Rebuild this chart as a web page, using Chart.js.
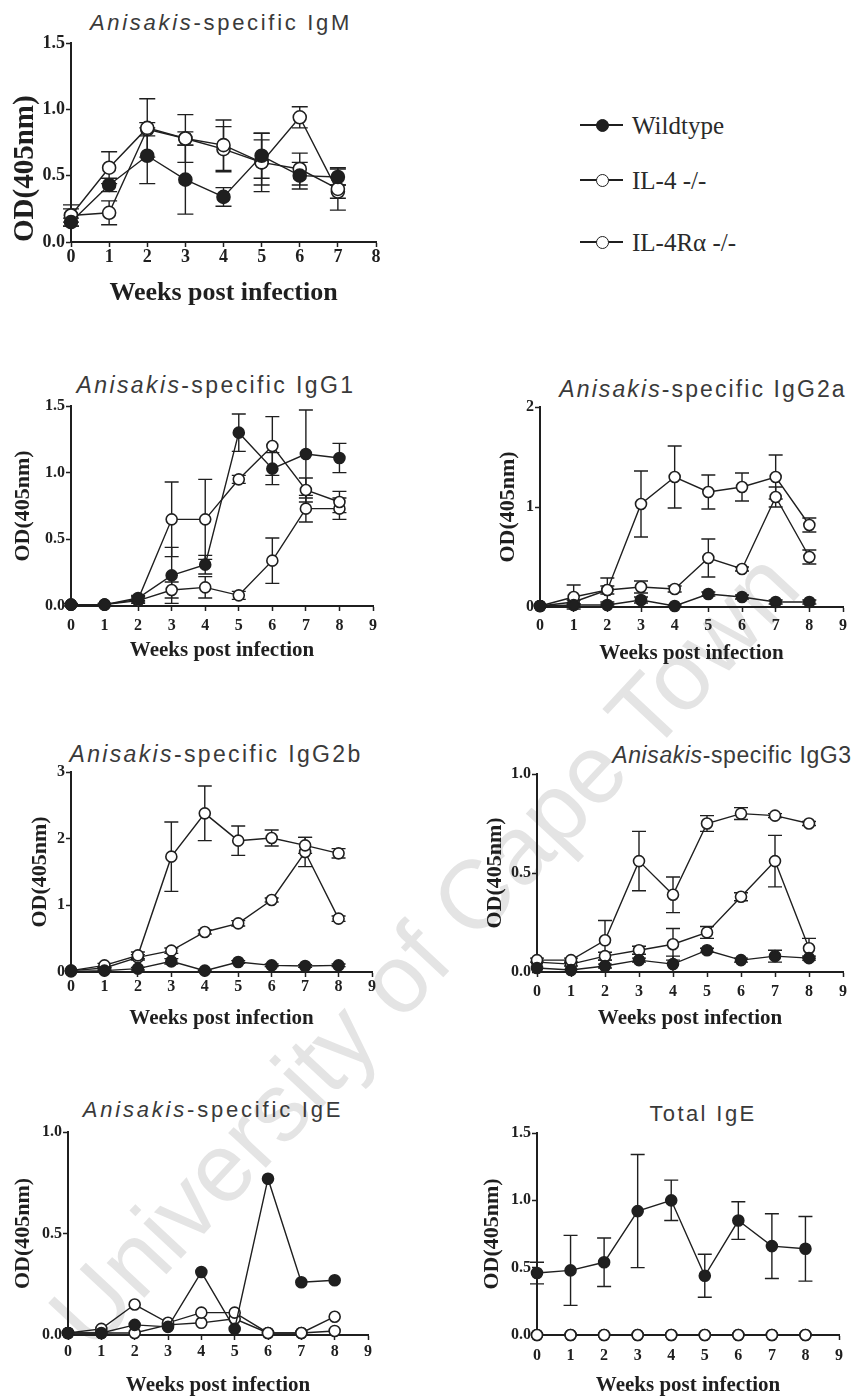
<!DOCTYPE html>
<html>
<head>
<meta charset="utf-8">
<script src="https://cdn.jsdelivr.net/npm/chart.js@4.4.1/dist/chart.umd.min.js"></script>
<style>
  html, body { margin: 0; padding: 0; background: #fff; }
  body { width: 857px; height: 1398px; position: relative; overflow: hidden; }
  canvas { position: absolute; }
  .ttl { position: absolute; font-family: 'Liberation Sans', Arial, sans-serif; color: #3a3a3a; white-space: nowrap; line-height: 1; transform: translateX(-50%); }
  .lg-line { position: absolute; height: 1.6px; background: #1f1f1f; }
  .lg-dot { position: absolute; border: 1.6px solid #1f1f1f; border-radius: 50%; box-sizing: border-box; }
  .lg-txt { position: absolute; font-family: 'Liberation Serif', 'Times New Roman', serif; font-size: 25px; line-height: 1; color: #2a2a2a; white-space: nowrap; }
  #wm { position: absolute; left: 92px; top: 1272px; font-family: 'Liberation Sans', Arial, sans-serif; font-size: 97px; line-height: 97px; color: #e4e4e4; white-space: nowrap; transform-origin: 0 82px; transform: rotate(-47deg); }
</style>
</head>
<body>
<div id="wm">University of Cape Town</div>
<script>
// weeks post infection
const weeksIgM = [0, 1, 2, 3, 4, 5, 6, 7];
const weeks = [0, 1, 2, 3, 4, 5, 6, 7, 8];
const seriesNames = ['Wildtype', 'IL-4 -/-', 'IL-4R\u03b1 -/-'];

// Anisakis-specific IgM
const igmWt = [0.15, 0.43, 0.65, 0.47, 0.34, 0.65, 0.50, 0.49];
const igmWtErr = [0.03, 0.05, 0.21, 0.26, 0.07, 0.17, 0.10, 0.06];
const igmIl4 = [0.20, 0.56, 0.86, 0.78, 0.73, 0.60, 0.55, 0.40];
const igmIl4Err = [0.08, 0.12, 0.22, 0.18, 0.19, 0.22, 0.12, 0.16];
const igmIl4ra = [0.20, 0.22, 0.85, 0.78, 0.70, 0.60, 0.94, 0.38];
const igmIl4raErr = [0.05, 0.09, 0.05, 0.05, 0.17, 0.17, 0.08, 0.05];

// Anisakis-specific IgG1
const igg1Wt = [0.01, 0.01, 0.06, 0.23, 0.31, 1.30, 1.03, 1.14, 1.11];
const igg1WtErr = [0.01, 0.01, 0.02, 0.21, 0.07, 0.14, 0.12, 0.33, 0.11];
const igg1Il4 = [0.01, 0.01, 0.05, 0.65, 0.65, 0.95, 1.20, 0.87, 0.78];
const igg1Il4Err = [0, 0, 0.02, 0.28, 0.30, 0.03, 0.22, 0.09, 0.08];
const igg1Il4ra = [0.01, 0.01, 0.04, 0.12, 0.14, 0.08, 0.34, 0.73, 0.73];
const igg1Il4raErr = [0, 0, 0.02, 0.06, 0.08, 0.03, 0.17, 0.10, 0.08];

// Anisakis-specific IgG2a
const igg2aWt = [0.01, 0.02, 0.02, 0.07, 0.01, 0.13, 0.10, 0.05, 0.05];
const igg2aWtErr = [0, 0.01, 0.01, 0.03, 0.01, 0.02, 0.02, 0.02, 0.02];
const igg2aIl4 = [0.01, 0.10, 0.17, 1.03, 1.30, 1.15, 1.20, 1.30, 0.82];
const igg2aIl4Err = [0, 0.12, 0.12, 0.33, 0.31, 0.17, 0.14, 0.22, 0.07];
const igg2aIl4ra = [0.01, 0.05, 0.17, 0.20, 0.18, 0.49, 0.38, 1.10, 0.50];
const igg2aIl4raErr = [0, 0.02, 0.04, 0.06, 0.03, 0.19, 0.02, 0.10, 0.07];

// Anisakis-specific IgG2b
const igg2bWt = [0.01, 0.02, 0.05, 0.16, 0.02, 0.15, 0.10, 0.09, 0.10];
const igg2bWtErr = [0, 0.01, 0.02, 0.04, 0.01, 0.02, 0.02, 0.02, 0.02];
const igg2bIl4 = [0.02, 0.10, 0.25, 1.73, 2.38, 1.97, 2.01, 1.90, 1.78];
const igg2bIl4Err = [0, 0.03, 0.05, 0.52, 0.41, 0.22, 0.12, 0.12, 0.07];
const igg2bIl4ra = [0.02, 0.06, 0.22, 0.32, 0.60, 0.73, 1.08, 1.80, 0.80];
const igg2bIl4raErr = [0, 0.01, 0.04, 0.04, 0.03, 0.04, 0.03, 0.22, 0.04];

// Anisakis-specific IgG3
const igg3Wt = [0.02, 0.01, 0.03, 0.06, 0.04, 0.11, 0.06, 0.08, 0.07];
const igg3WtErr = [0, 0, 0.01, 0.01, 0.04, 0.01, 0.01, 0.03, 0.01];
const igg3Il4 = [0.06, 0.06, 0.16, 0.56, 0.39, 0.75, 0.80, 0.79, 0.75];
const igg3Il4Err = [0.01, 0.01, 0.10, 0.15, 0.09, 0.04, 0.03, 0.01, 0.01];
const igg3Il4ra = [0.05, 0.04, 0.08, 0.11, 0.14, 0.20, 0.38, 0.56, 0.12];
const igg3Il4raErr = [0, 0.01, 0.02, 0.02, 0.08, 0.03, 0.02, 0.13, 0.05];

// Anisakis-specific IgE (no error bars drawn)
const igeWt = [0.01, 0.01, 0.05, 0.04, 0.31, 0.03, 0.77, 0.26, 0.27];
const igeIl4 = [0.01, 0.03, 0.15, 0.06, 0.11, 0.11, 0.01, 0.01, 0.09];
const igeIl4ra = [0.01, 0.01, 0.01, 0.05, 0.06, 0.08, 0.01, 0.01, 0.02];

// Total IgE
const totWt = [0.46, 0.48, 0.54, 0.92, 1.00, 0.44, 0.85, 0.66, 0.64];
const totWtErr = [0.08, 0.26, 0.18, 0.42, 0.15, 0.16, 0.14, 0.24, 0.24];
const totIl4 = [0, 0, 0, 0, 0, 0, 0, 0, 0];
const totIl4ra = [0, 0, 0, 0, 0, 0, 0, 0, 0];

// y tick labels
const yTicks15 = ['0.0', '0.5', '1.0', '1.5'];
const yTicks10 = ['0.0', '0.5', '1.0'];
const yTicks2 = ['0', '1', '2'];
const yTicks3 = ['0', '1', '2', '3'];

const INK = '#1f1f1f';
const SERIF = "'Liberation Serif', 'Times New Roman', serif";

// vertical SEM bars with caps, drawn under the markers
const errorBars = {
  id: 'errorBars',
  beforeDatasetsDraw(chart) {
    const ctx = chart.ctx, xs = chart.scales.x, ys = chart.scales.y;
    const cap = chart.options.plugins.errorBars.cap;
    ctx.save();
    ctx.strokeStyle = INK;
    ctx.lineWidth = 1.4;
    chart.data.datasets.forEach(ds => {
      if (!ds.errors) return;
      ds.data.forEach((pt, i) => {
        const e = ds.errors[i];
        if (!e) return;
        const px = xs.getPixelForValue(pt.x);
        const hi = ys.getPixelForValue(pt.y + e);
        const lo = ys.getPixelForValue(pt.y - e);
        ctx.beginPath();
        ctx.moveTo(px, hi); ctx.lineTo(px, lo);
        ctx.moveTo(px - cap, hi); ctx.lineTo(px + cap, hi);
        ctx.moveTo(px - cap, lo); ctx.lineTo(px + cap, lo);
        ctx.stroke();
      });
    });
    ctx.restore();
  }
};

const panels = [
  { title: ['Anisakis', '-specific IgM'], big: true, weeks: weeksIgM, xMax: 8, yMax: 1.5, yStep: 0.5, yLabels: yTicks15,
    series: [[igmWt, igmWtErr], [igmIl4, igmIl4Err], [igmIl4ra, igmIl4raErr]],
    box: { L: 71, T: 43, R: 376, B: 242, yTitleX: 25, xTitleY: 293, tickPad: 0, yAlign: 'start' },
    head: { cx: 221, base: 31, size: 22, ls: 2.7 } },
  { title: ['Anisakis', '-specific IgG1'], weeks: weeks, xMax: 9, yMax: 1.5, yStep: 0.5, yLabels: yTicks15,
    series: [[igg1Wt, igg1WtErr], [igg1Il4, igg1Il4Err], [igg1Il4ra, igg1Il4raErr]],
    box: { L: 71, T: 406, R: 373, B: 606, yTitleX: 23, xTitleY: 650, tickPad: 5 },
    head: { cx: 216, base: 393, size: 23, ls: 2.4 } },
  { title: ['Anisakis', '-specific IgG2a'], weeks: weeks, xMax: 9, yMax: 2, yStep: 1, yLabels: yTicks2,
    series: [[igg2aWt, igg2aWtErr], [igg2aIl4, igg2aIl4Err], [igg2aIl4ra, igg2aIl4raErr]],
    box: { L: 540, T: 407, R: 843, B: 607, yTitleX: 508, xTitleY: 653, tickPad: 4 },
    head: { cx: 703, base: 397, size: 23, ls: 2.1 } },
  { title: ['Anisakis', '-specific IgG2b'], weeks: weeks, xMax: 9, yMax: 3, yStep: 1, yLabels: yTicks3,
    series: [[igg2bWt, igg2bWtErr], [igg2bIl4, igg2bIl4Err], [igg2bIl4ra, igg2bIl4raErr]],
    box: { L: 71, T: 772, R: 372, B: 972, yTitleX: 40, xTitleY: 1018, tickPad: 0 },
    head: { cx: 216, base: 762, size: 23, ls: 2.35 } },
  { title: ['Anisakis', '-specific IgG3'], weeks: weeks, xMax: 9, yMax: 1, yStep: 0.5, yLabels: yTicks10,
    series: [[igg3Wt, igg3WtErr], [igg3Il4, igg3Il4Err], [igg3Il4ra, igg3Il4raErr]],
    box: { L: 537, T: 774, R: 843, B: 972, yTitleX: 495, xTitleY: 1018, tickPad: 5 },
    head: { cx: 732, base: 763, size: 23, ls: 0.6 } },
  { title: ['Anisakis', '-specific IgE'], weeks: weeks, xMax: 9, yMax: 1, yStep: 0.5, yLabels: yTicks10,
    series: [[igeWt, null], [igeIl4, null], [igeIl4ra, null]],
    box: { L: 68, T: 1132, R: 368, B: 1335, yTitleX: 23, xTitleY: 1385, tickPad: 2 },
    head: { cx: 213, base: 1118, size: 22, ls: 2.8 } },
  { title: ['', 'Total IgE'], weeks: weeks, xMax: 9, yMax: 1.5, yStep: 0.5, yLabels: yTicks15,
    series: [[totWt, totWtErr], [totIl4, null], [totIl4ra, null]],
    box: { L: 537, T: 1133, R: 839, B: 1335, yTitleX: 492, xTitleY: 1385, tickPad: 6 },
    head: { cx: 703, base: 1122, size: 22, ls: 2.4 } }
];

function addHeading(p) {
  const h = p.head;
  const d = document.createElement('div');
  d.className = 'ttl';
  d.style.fontSize = h.size + 'px';
  d.style.letterSpacing = h.ls + 'px';
  d.style.left = h.cx + 'px';
  d.style.top = (h.base - 0.8465 * h.size) + 'px';
  if (p.title[0]) {
    const it = document.createElement('i');
    it.textContent = p.title[0];
    d.appendChild(it);
  }
  d.appendChild(document.createTextNode(p.title[1]));
  document.body.appendChild(d);
}

function buildPanel(p) {
  const b = p.box;
  const xSize = p.big ? 26 : 21;
  const ySize = p.big ? 29 : 22;
  const tkSize = p.big ? 18 : 16;
  const cLeft = Math.round(b.yTitleX - ySize * 0.6);
  const cTop = b.T - 14;
  const cRight = b.R + 16;
  const cBottom = Math.round(b.xTitleY + xSize * 0.6);
  const cv = document.createElement('canvas');
  cv.width = cRight - cLeft;
  cv.height = cBottom - cTop;
  cv.style.left = cLeft + 'px';
  cv.style.top = cTop + 'px';
  document.body.appendChild(cv);
  const yW = b.L - cLeft, xH = cBottom - b.B;
  const r = p.big ? 6.5 : 5.5;

  const datasets = p.series.map((s, k) => ({
    label: seriesNames[k],
    data: s[0].map((v, i) => ({ x: p.weeks[i], y: v })),
    errors: s[1],
    borderColor: INK,
    borderWidth: 1.4,
    pointBackgroundColor: k === 0 ? INK : '#fff',
    pointBorderColor: INK,
    pointBorderWidth: 1.6,
    pointRadius: r,
    tension: 0,
    fill: false,
    clip: false
  }));

  const tickFont = { family: SERIF, size: tkSize, weight: 'bold' };

  new Chart(cv.getContext('2d'), {
    type: 'line',
    data: { datasets: datasets },
    plugins: [errorBars],
    options: {
      responsive: false,
      animation: false,
      devicePixelRatio: 1,
      layout: { padding: { left: 0, top: 14, right: 16, bottom: 0 } },
      plugins: { legend: { display: false }, tooltip: { enabled: false }, errorBars: { cap: p.big ? 8 : 7 } },
      scales: {
        x: {
          type: 'linear', min: 0, max: p.xMax,
          ticks: { stepSize: 1, color: INK, font: tickFont, padding: b.tickPad, maxRotation: 0, autoSkip: false,
            callback: v => String(v) },
          grid: { display: true, drawOnChartArea: false, drawTicks: true, tickLength: 5, tickWidth: 1.5, tickColor: INK },
          border: { display: true, color: INK, width: 2 },
          title: { display: true, text: 'Weeks post infection', color: INK,
            font: { family: SERIF, size: xSize, weight: 'bold' }, padding: 0 },
          afterFit: s => { s.height = xH; }
        },
        y: {
          type: 'linear', min: 0, max: p.yMax,
          ticks: { stepSize: p.yStep, color: INK, font: tickFont, padding: 1,
            callback: (v, i) => p.yLabels[i] },
          grid: { display: true, drawOnChartArea: false, drawTicks: true, tickLength: 5, tickWidth: 1.5, tickColor: INK },
          border: { display: true, color: INK, width: 2 },
          title: { display: true, text: 'OD(405nm)', color: INK, align: b.yAlign || 'center',
            font: { family: SERIF, size: ySize, weight: 'bold' }, padding: 0 },
          afterFit: s => { s.width = yW; }
        }
      }
    }
  });
}

panels.forEach(p => { addHeading(p); buildPanel(p); });

// legend beside the IgM panel
const legendRowsY = [125, 180, 242];
seriesNames.forEach((name, k) => {
  const y = legendRowsY[k];
  const ln = document.createElement('div');
  ln.className = 'lg-line';
  ln.style.left = '580px'; ln.style.width = '43px'; ln.style.top = (y - 0.8) + 'px';
  document.body.appendChild(ln);
  const dot = document.createElement('div');
  dot.className = 'lg-dot';
  const d = 13;
  dot.style.width = d + 'px'; dot.style.height = d + 'px';
  dot.style.left = (602 - d / 2) + 'px'; dot.style.top = (y - d / 2) + 'px';
  dot.style.background = k === 0 ? '#1f1f1f' : '#fff';
  document.body.appendChild(dot);
  const t = document.createElement('div');
  t.className = 'lg-txt';
  t.textContent = name;
  t.style.left = '632px'; t.style.top = (y - 12) + 'px';
  document.body.appendChild(t);
});
</script>
</body>
</html>
